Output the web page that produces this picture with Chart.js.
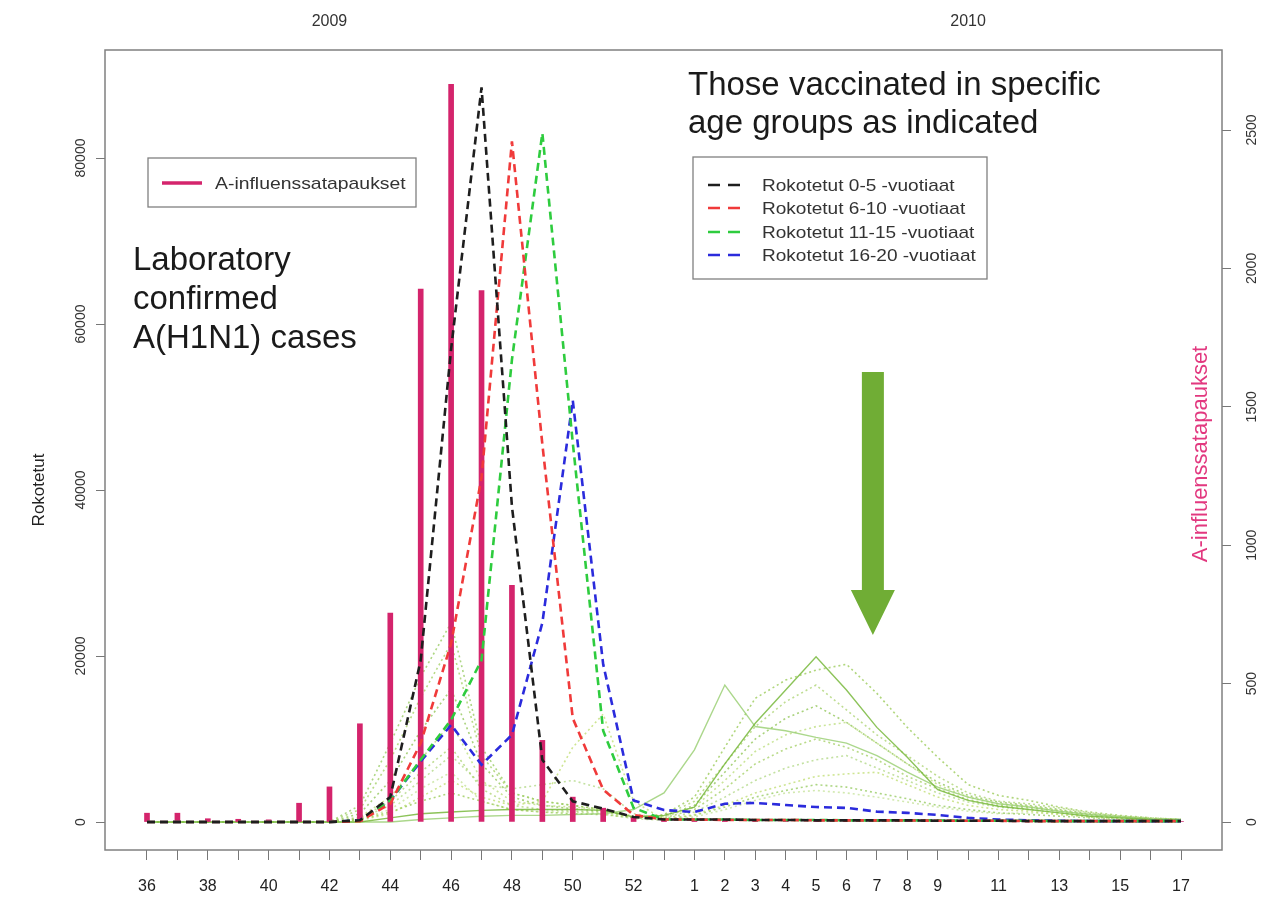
<!DOCTYPE html>
<html lang="fi">
<head>
  <meta charset="UTF-8" />
  <title>Rokotetut ja A-influenssatapaukset 2009–2010</title>
  <script src="https://cdn.jsdelivr.net/npm/chart.js"></script>
  <style>
    html, body { margin: 0; padding: 0; background: #fff; }
    #wrap { width: 1282px; height: 903px; }
  </style>
</head>
<body>
  <div id="wrap"><canvas id="rokChart" width="1282" height="903"></canvas></div>

  <script>
    // viikot 36/2009 - 17/2010 (2009 oli 53 viikkoa)
    const weeks = [36,37,38,39,40,41,42,43,44,45,46,47,48,49,50,51,52,53,
                   1,2,3,4,5,6,7,8,9,10,11,12,13,14,15,16,17];
    const labelledWeeks = [36,38,40,42,44,46,48,50,52,1,2,3,4,5,6,7,8,9,11,13,15,17];
    const leftTicks = [0, 20000, 40000, 60000, 80000];
    const rightTicks = [0, 500, 1000, 1500, 2000, 2500];

    // laboratoriovarmistetut A-influenssatapaukset / viikko
    const cases = [32,32,12,10,8,68,127,355,755,1925,2665,1920,855,295,90,50,15,8,
                   6,5,5,4,4,4,4,3,3,3,3,3,2,2,2,2,2];

    // rokotetut ikäryhmittäin
    const vacc0_5   = [0,0,0,0,0,0,0,200,3000,19500,57000,88500,38000,7500,2500,1600,600,300,
                       300,300,250,250,200,200,200,200,150,150,150,100,100,100,100,100,100];
    const vacc6_10  = [0,0,0,0,0,0,0,100,2200,9500,21500,41500,82000,45500,12500,3900,850,300,
                       300,250,250,250,200,200,200,200,150,150,150,100,100,100,100,100,100];
    const vacc11_15 = [0,0,0,0,0,0,0,150,2600,7500,12300,19500,55700,83000,45700,11000,1700,300,
                       300,300,250,250,250,200,200,200,200,150,150,150,100,100,100,100,100];
    const vacc16_20 = [0,0,0,0,0,0,0,200,2600,7300,11700,6900,10500,24000,50800,19000,2600,1450,
                       1200,2200,2300,2050,1800,1700,1250,1100,850,500,300,200,150,100,100,100,100];

    // muut ikäryhmät (pisteviivat)
    const otherA = [0,0,0,0,0,0,0,0,500,1000,1200,1400,1500,1500,1500,1400,600,800,
                    1800,7000,11900,15900,19900,15900,11400,7800,3900,2600,1900,1500,1100,700,500,300,200];
    const otherB = [0,0,0,0,0,0,0,0,0,300,500,700,800,800,900,1000,1500,3500,
                    8700,16500,11500,11000,10200,9500,8000,6000,4200,3000,2200,1800,1300,900,600,400,300];
    const otherC = [0,0,0,0,0,0,0,300,1200,2500,3500,2500,1500,1200,1000,900,500,900,
                    3000,9000,14900,17100,18300,19000,15500,11400,7800,4500,3200,2600,1800,1200,800,500,300];
    const otherD = [0,0,0,0,0,0,0,500,2500,6000,9000,4000,2000,1500,1300,1200,600,800,
                    2500,7000,11500,14500,16500,13500,10500,8000,5500,3500,2500,2200,1700,1100,700,500,300];
    const otherE = [0,0,0,0,0,0,0,1000,5000,11000,16000,7000,3000,2000,1600,1300,600,700,
                    2000,6000,10000,12500,14000,12000,9500,7000,4800,3200,2400,2000,1500,1000,700,400,300];
    const otherF = [0,0,0,0,0,0,0,600,3000,7500,12000,5000,2500,2000,1800,1500,700,600,
                    1800,5000,8500,10500,11500,12000,9500,7000,4500,3000,2200,1900,1400,900,600,400,300];
    const otherG = [0,0,0,0,0,0,0,1500,7500,15000,21500,8000,3500,2500,2000,1500,600,500,
                    1500,4000,7000,8800,10000,9000,7500,5500,4000,2700,2000,1700,1300,800,500,300,200];
    const otherH = [0,0,0,0,0,0,0,400,2000,5000,8000,4500,4000,4500,5000,4000,1000,400,
                    1200,3000,5000,6500,7500,8000,6500,5000,3500,2400,1800,1500,1100,700,500,300,200];
    const otherI = [0,0,0,0,0,0,0,200,1000,3000,5000,3000,2000,2500,9000,13000,2500,300,
                    900,2000,3500,4500,5500,5800,6000,4500,3000,2000,1500,1300,900,600,400,300,200];
    const otherJ = [0,0,0,0,0,0,0,2000,9500,17500,24000,9000,3500,2500,2000,1500,500,300,
                    800,1800,3000,3800,4500,4200,3500,2800,2000,1500,1100,900,700,500,300,200,100];
    const otherK = [0,0,0,0,0,0,0,300,1500,4000,6000,2500,1500,1200,1200,1000,400,200,
                    600,1500,2600,3500,3800,3500,3000,2400,1800,1300,1000,1100,1000,600,400,200,100];

    const FONT = '"Liberation Sans", Arial, sans-serif';
    const toXY = arr => arr.map((v, i) => ({ x: i, y: v }));

    const mainLines = [
      { label: 'Rokotetut 0-5 -vuotiaat',   data: vacc0_5,   color: '#1e1e1e' },
      { label: 'Rokotetut 6-10 -vuotiaat',  data: vacc6_10,  color: '#f03a3a' },
      { label: 'Rokotetut 11-15 -vuotiaat', data: vacc11_15, color: '#2ecc3e' },
      { label: 'Rokotetut 16-20 -vuotiaat', data: vacc16_20, color: '#2b2bdc' }
    ];
    const others = [otherA, otherB, otherC, otherD, otherE, otherF, otherG, otherH, otherI, otherJ, otherK];
    const otherColors = ['rgba(120,185,60,0.85)', 'rgba(150,205,110,0.8)', 'rgba(150,200,80,0.75)',
                         'rgba(170,210,110,0.75)', 'rgba(140,195,80,0.75)', 'rgba(185,220,120,0.75)',
                         'rgba(160,205,95,0.75)', 'rgba(175,215,130,0.75)', 'rgba(190,220,110,0.75)',
                         'rgba(145,200,90,0.75)', 'rgba(195,225,150,0.75)'];

    const datasets = [];
    others.forEach((arr, i) => {
      datasets.push({
        type: 'line', label: 'muut ' + (i + 1), data: toXY(arr), yAxisID: 'y',
        borderColor: otherColors[i], borderWidth: i < 2 ? 1.4 : 1.6,
        borderDash: i < 2 ? [] : [2, 3], pointRadius: 0, tension: 0, order: 30
      });
    });
    datasets.push({
      type: 'bar', label: 'A-influenssatapaukset', data: toXY(cases), yAxisID: 'y2',
      backgroundColor: '#d4246c', barThickness: 5, order: 20
    });
    mainLines.forEach(s => {
      datasets.push({
        type: 'line', label: s.label, data: toXY(s.data), yAxisID: 'y',
        borderColor: s.color, borderWidth: 2.6, borderDash: [8, 5],
        pointRadius: 0, tension: 0, order: 10
      });
    });

    function rotText(ctx, text, x, y) {
      ctx.save();
      ctx.translate(x, y);
      ctx.rotate(-Math.PI / 2);
      ctx.fillText(text, 0, 0);
      ctx.restore();
    }

    function wideText(ctx, text, x, y, sx) {
      ctx.save();
      ctx.translate(x, y);
      ctx.scale(sx, 1);
      ctx.fillText(text, 0, 0);
      ctx.restore();
    }

    // laatikko, kiertyneet akselitekstit, selitteet, huomautukset ja nuoli
    const decor = {
      id: 'decor',
      afterDraw(chart) {
        const ctx = chart.ctx;
        const a = chart.chartArea;
        const xs = chart.scales.x, yl = chart.scales.y, yr = chart.scales.y2;
        ctx.save();

        ctx.strokeStyle = '#808080';
        ctx.lineWidth = 1.5;
        ctx.strokeRect(a.left, a.top, a.right - a.left, a.bottom - a.top);

        ctx.fillStyle = '#333';
        ctx.font = '14px ' + FONT;
        ctx.textAlign = 'center';
        ctx.textBaseline = 'middle';
        yl.ticks.forEach(t => rotText(ctx, String(t.value), 81, yl.getPixelForValue(t.value)));
        yr.ticks.forEach(t => rotText(ctx, String(t.value), 1252, yr.getPixelForValue(t.value)));

        ctx.font = '17px ' + FONT;
        ctx.fillStyle = '#222';
        rotText(ctx, 'Rokotetut', 39, (a.top + a.bottom) / 2 + 40);

        ctx.font = '22px ' + FONT;
        ctx.fillStyle = '#e2387f';
        rotText(ctx, 'A-influenssatapaukset', 1201, 454);

        // vuodet
        ctx.font = '16px ' + FONT;
        ctx.fillStyle = '#333';
        ctx.fillText('2009', xs.getPixelForValue(weeks.indexOf(42)), 22);
        ctx.fillText('2010', xs.getPixelForValue(weeks.lastIndexOf(10)), 22);

        // selite: tapaukset
        ctx.strokeStyle = '#808080';
        ctx.lineWidth = 1.3;
        ctx.strokeRect(148, 158, 268, 49);
        ctx.strokeStyle = '#d4246c';
        ctx.lineWidth = 3.5;
        ctx.beginPath(); ctx.moveTo(162, 183); ctx.lineTo(202, 183); ctx.stroke();
        ctx.fillStyle = '#333';
        ctx.textAlign = 'left';
        ctx.font = '17px ' + FONT;
        wideText(ctx, 'A-influenssatapaukset', 215, 184, 1.14);

        // selite: rokotetut
        ctx.strokeStyle = '#808080';
        ctx.lineWidth = 1.3;
        ctx.strokeRect(693, 157, 294, 122);
        const rows = [185, 208, 232, 255];
        mainLines.forEach((s, i) => {
          ctx.strokeStyle = s.color;
          ctx.lineWidth = 2.4;
          ctx.setLineDash([12, 8]);
          ctx.beginPath(); ctx.moveTo(708, rows[i]); ctx.lineTo(741, rows[i]); ctx.stroke();
          ctx.setLineDash([]);
          ctx.fillStyle = '#333';
          wideText(ctx, s.label, 762, rows[i] + 1, 1.12);
        });

        // huomautustekstit
        ctx.fillStyle = '#1a1a1a';
        ctx.textBaseline = 'alphabetic';
        ctx.font = '33px ' + FONT;
        ['Laboratory', 'confirmed', 'A(H1N1) cases'].forEach((t, i) => ctx.fillText(t, 133, 270 + i * 39));
        ['Those vaccinated in specific', 'age groups as indicated'].forEach((t, i) => ctx.fillText(t, 688, 95 + i * 38));

        // vihreä nuoli viikon 7 kohdalla
        const cx = xs.getPixelForValue(weeks.lastIndexOf(7)) - 4;
        ctx.fillStyle = '#70ad35';
        ctx.beginPath();
        ctx.moveTo(cx - 11, 372);
        ctx.lineTo(cx + 11, 372);
        ctx.lineTo(cx + 11, 590);
        ctx.lineTo(cx + 22, 590);
        ctx.lineTo(cx, 635);
        ctx.lineTo(cx - 22, 590);
        ctx.lineTo(cx - 11, 590);
        ctx.closePath();
        ctx.fill();

        ctx.restore();
      }
    };

    new Chart(document.getElementById('rokChart'), {
      data: { datasets },
      options: {
        responsive: false,
        animation: false,
        devicePixelRatio: 1,
        layout: { padding: { top: 50, left: 0, right: 0, bottom: 0 } },
        plugins: { legend: { display: false }, tooltip: { enabled: false } },
        scales: {
          x: {
            type: 'linear',
            offset: false,
            min: -1.381,
            max: 35.348,
            afterBuildTicks: s => { s.ticks = weeks.map((w, i) => ({ value: i })); },
            afterFit: s => { s.height = 53; },
            ticks: {
              autoSkip: false, maxRotation: 0, padding: 17,
              color: '#222', font: { family: FONT, size: 16 },
              callback: v => labelledWeeks.includes(weeks[v]) ? String(weeks[v]) : ''
            },
            grid: { offset: false, drawOnChartArea: false, drawTicks: true, tickLength: 10, color: '#777' },
            border: { display: false }
          },
          y: {
            position: 'left',
            min: -3373,
            max: 93012,
            afterBuildTicks: s => { s.ticks = leftTicks.map(v => ({ value: v })); },
            afterFit: s => { s.width = 105; },
            ticks: { display: false },
            grid: { drawOnChartArea: false, drawTicks: true, tickLength: 9, color: '#777' },
            border: { display: false }
          },
          y2: {
            position: 'right',
            min: -101,
            max: 2789,
            afterBuildTicks: s => { s.ticks = rightTicks.map(v => ({ value: v })); },
            afterFit: s => { s.width = 60; },
            ticks: { display: false },
            grid: { drawOnChartArea: false, drawTicks: true, tickLength: 9, color: '#777' },
            border: { display: false }
          }
        }
      },
      plugins: [decor]
    });
  </script>
</body>
</html>
